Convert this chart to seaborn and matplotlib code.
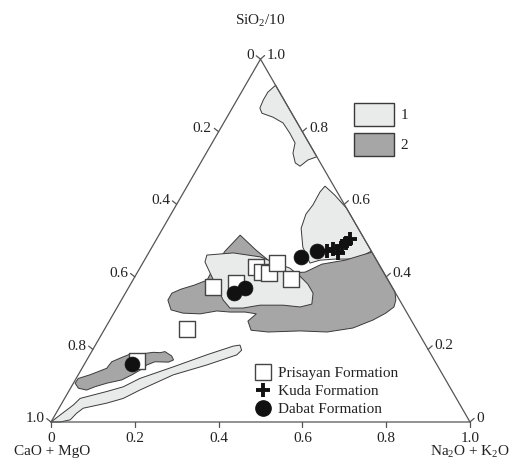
import numpy as np
import pandas as pd
import matplotlib
matplotlib.use("Agg")
import matplotlib.pyplot as plt
import seaborn as sns
from matplotlib.lines import Line2D
from matplotlib.patches import Patch
from matplotlib.transforms import offset_copy

# Compositions as fractions of (CaO+MgO) + SiO2/10 + (Na2O+K2O) = 1.
# Each point/vertex is stored as (Na2O+K2O, SiO2/10); CaO+MgO is the remainder.
prisayan_alk = [0.201, 0.250, 0.276, 0.297, 0.315, 0.320, 0.376, 0.197, 0.121]
prisayan_si = [0.372, 0.383, 0.427, 0.413, 0.411, 0.438, 0.394, 0.256, 0.168]

kuda_alk = [0.423, 0.435, 0.452, 0.452, 0.458, 0.462]
kuda_si = [0.471, 0.477, 0.466, 0.485, 0.493, 0.504]

dabat_alk = [0.259, 0.278, 0.369, 0.399, 0.113]
dabat_si = [0.355, 0.369, 0.455, 0.471, 0.160]

# Field 1 outlines
field1_top_alk = [0.072, 0.269, 0.252, 0.242, 0.226, 0.207, 0.198, 0.172, 0.142, 0.110, 0.078, 0.066, 0.063, 0.063]
field1_top_si = [0.928, 0.731, 0.722, 0.705, 0.714, 0.741, 0.769, 0.796, 0.824, 0.840, 0.851, 0.865, 0.887, 0.909]

field1_right_alk = [0.329, 0.365, 0.411, 0.529, 0.514, 0.494, 0.453, 0.419, 0.399, 0.360, 0.330, 0.322, 0.326, 0.325]
field1_right_si = [0.650, 0.625, 0.589, 0.471, 0.457, 0.449, 0.449, 0.446, 0.438, 0.482, 0.534, 0.573, 0.598, 0.634]

field1_mid_alk = [0.142, 0.202, 0.272, 0.309, 0.358, 0.393, 0.423, 0.448, 0.460, 0.436, 0.393, 0.338,
                  0.301, 0.270, 0.243, 0.210, 0.174, 0.147]
field1_mid_si = [0.460, 0.466, 0.455, 0.441, 0.424, 0.402, 0.380, 0.355, 0.325, 0.317, 0.322, 0.322,
                 0.314, 0.314, 0.336, 0.372, 0.411, 0.441]

field1_band_alk = [0.000, 0.012, 0.030, 0.037, 0.091, 0.124, 0.152, 0.216, 0.279, 0.330, 0.345, 0.356,
                   0.351, 0.293, 0.227, 0.168, 0.140, 0.107, 0.058, 0.049, 0.043, 0.022]
field1_band_si = [0.000, 0.019, 0.047, 0.065, 0.084, 0.097, 0.120, 0.152, 0.185, 0.209, 0.212, 0.198,
                  0.185, 0.157, 0.130, 0.088, 0.065, 0.052, 0.038, 0.024, 0.006, 0.000]

# Field 2 outlines
field2_main_alk = [0.194, 0.252, 0.308, 0.365, 0.400, 0.429, 0.479, 0.512, 0.532, 0.642, 0.655, 0.660,
                   0.649, 0.628, 0.591, 0.535, 0.469, 0.394, 0.351, 0.331, 0.341, 0.312, 0.276, 0.243,
                   0.207, 0.165, 0.132, 0.111, 0.111, 0.127, 0.153, 0.177, 0.175, 0.180]
field2_main_si = [0.515, 0.474, 0.438, 0.411, 0.413, 0.435, 0.446, 0.460, 0.468, 0.358, 0.336, 0.317,
                  0.300, 0.281, 0.259, 0.248, 0.251, 0.248, 0.253, 0.278, 0.298, 0.303, 0.303, 0.306,
                  0.298, 0.300, 0.309, 0.336, 0.355, 0.366, 0.377, 0.391, 0.433, 0.471]

field2_low_alk = [0.005, 0.028, 0.059, 0.062, 0.077, 0.095, 0.130, 0.148, 0.165, 0.175, 0.197, 0.207,
                  0.198, 0.165, 0.150, 0.141, 0.128, 0.111, 0.080, 0.056, 0.041, 0.019, 0.004]
field2_low_si = [0.120, 0.130, 0.148, 0.166, 0.176, 0.187, 0.189, 0.192, 0.191, 0.194, 0.182, 0.171,
                 0.165, 0.166, 0.157, 0.143, 0.130, 0.116, 0.107, 0.097, 0.088, 0.093, 0.107]

tick_values = [0.0, 0.2, 0.4, 0.6, 0.8, 1.0]
tick_labels = ["0", "0.2", "0.4", "0.6", "0.8", "1.0"]

field_labels = ["1", "2"]
formation_labels = ["Prisayan Formation", "Kuda Formation", "Dabat Formation"]

LIGHT = "#e9eaea"
DARK = "#a6a6a6"
OUTLINE = "#3a3a3a"
FRAME = "#555555"
H = np.sqrt(3) / 2


def to_xy(alk, si):
    alk = np.asarray(alk, dtype=float)
    si = np.asarray(si, dtype=float)
    return alk + si / 2, si * H


sns.set_theme(style="white")
plt.rcParams["font.family"] = ["Liberation Serif", "DejaVu Serif"]
plt.rcParams["mathtext.fontset"] = "custom"
plt.rcParams["mathtext.rm"] = "Liberation Serif"
plt.rcParams["mathtext.it"] = "Liberation Serif:italic"

fig = plt.figure(figsize=(5.09, 4.61), dpi=100)
ax = fig.add_axes([0, 0, 1, 1])
ax.set_xlim(-0.1217, 1.0931)
ax.set_ylim(-0.0931, 1.0072)
ax.set_axis_off()

# compositional fields
polys = [
    (field1_top_alk, field1_top_si, LIGHT, 2),
    (field1_right_alk, field1_right_si, LIGHT, 2),
    (field1_band_alk, field1_band_si, LIGHT, 2),
    (field2_low_alk, field2_low_si, DARK, 3),
    (field2_main_alk, field2_main_si, DARK, 3),
    (field1_mid_alk, field1_mid_si, LIGHT, 4),
]
for alk, si, col, z in polys:
    x, y = to_xy(alk, si)
    ax.fill(x, y, facecolor=col, edgecolor=OUTLINE, linewidth=0.7, zorder=z)

# triangle frame
corners_x, corners_y = to_xy([0, 1, 0, 0], [0, 0, 1, 0])
ax.plot(corners_x, corners_y, color=FRAME, lw=0.9, zorder=5, solid_joinstyle="miter")

# ticks and tick labels on the three sides
tl = 0.013
fs = 11
for t, lab in zip(tick_values, tick_labels):
    # bottom: Na2O+K2O
    bx, by = to_xy(t, 0)
    ax.plot([bx, bx], [by, by - tl], color=FRAME, lw=0.9, zorder=5)
    ax.text(bx, by, lab, ha="center", va="center", fontsize=fs, color="#222",
            transform=offset_copy(ax.transData, fig=fig, x=0, y=-16.5, units="dots"))
    # left: CaO+MgO
    lx, ly = to_xy(0, 1 - t)
    dx, dy = -0.78 * tl, 0.62 * tl
    ax.plot([lx, lx + dx], [ly, ly + dy], color=FRAME, lw=0.9, zorder=5)
    ax.text(lx + dx, ly + dy, lab, ha="right", va="center", fontsize=fs, color="#222",
            transform=offset_copy(ax.transData, fig=fig, x=-2.5, y=0, units="dots"))
    # right: SiO2/10
    rx, ry = to_xy(1 - t, t)
    dx, dy = 0.75 * tl, 0.66 * tl
    ax.plot([rx, rx + dx], [ry, ry + dy], color=FRAME, lw=0.9, zorder=5)
    ax.text(rx + dx, ry + dy, lab, ha="left", va="center", fontsize=fs, color="#222",
            transform=offset_copy(ax.transData, fig=fig, x=2.5, y=0, units="dots"))

# apex names
ax.text(*to_xy(0, 1), "SiO$_2$/10", ha="center", va="center", fontsize=fs, color="#222",
        transform=offset_copy(ax.transData, fig=fig, x=0, y=38, units="dots"))
ax.text(*to_xy(0, 0), "CaO + MgO", ha="center", va="center", fontsize=fs, color="#222",
        transform=offset_copy(ax.transData, fig=fig, x=1, y=-30, units="dots"))
ax.text(*to_xy(1, 0), "Na$_2$O + K$_2$O", ha="center", va="center", fontsize=fs, color="#222",
        transform=offset_copy(ax.transData, fig=fig, x=0, y=-30, units="dots"))

# sample points
px, py = to_xy(prisayan_alk, prisayan_si)
kx, ky = to_xy(kuda_alk, kuda_si)
dx_, dy_ = to_xy(dabat_alk, dabat_si)
pts = pd.DataFrame({
    "x": np.concatenate([px, kx, dx_]),
    "y": np.concatenate([py, ky, dy_]),
    "formation": [formation_labels[0]] * len(px) + [formation_labels[1]] * len(kx)
                 + [formation_labels[2]] * len(dx_),
})

sq = pts[pts.formation == formation_labels[0]]
sns.scatterplot(data=sq, x="x", y="y", marker="s", s=135, color="white",
                edgecolor="#444444", linewidth=1.0, legend=False, ax=ax, zorder=6)
cr = pts[pts.formation == formation_labels[1]]
sns.scatterplot(data=cr, x="x", y="y", marker="+", s=100, color="#111111",
                linewidth=2.8, legend=False, ax=ax, zorder=7)
ci = pts[pts.formation == formation_labels[2]]
sns.scatterplot(data=ci, x="x", y="y", marker="o", s=115, color="#111111",
                edgecolor="#111111", linewidth=0.5, legend=False, ax=ax, zorder=8)

# legends
fm_handles = [
    Line2D([], [], marker="s", ms=11.5, mfc="white", mec="#444444", mew=1.0, ls="none"),
    Line2D([], [], marker="+", ms=10, mec="#111111", mew=2.8, ls="none"),
    Line2D([], [], marker="o", ms=11, mfc="#111111", mec="#111111", ls="none"),
]
leg1 = ax.legend(fm_handles, formation_labels, loc="upper left",
                 bbox_to_anchor=(255.4 / 509, 1 - 366.5 / 461), bbox_transform=fig.transFigure,
                 frameon=False, fontsize=fs, handlelength=1.0, handletextpad=0.48,
                 labelspacing=0.28, borderpad=0, borderaxespad=0)
for t in leg1.get_texts():
    t.set_color("#222")
ax.add_artist(leg1)

field_handles = [Patch(facecolor=LIGHT, edgecolor=OUTLINE, linewidth=1.0),
                 Patch(facecolor=DARK, edgecolor=OUTLINE, linewidth=1.0)]
leg2 = ax.legend(field_handles, field_labels, loc="upper left",
                 bbox_to_anchor=(354.3 / 509, 1 - 103 / 461), bbox_transform=fig.transFigure,
                 frameon=False, fontsize=fs, handlelength=2.62, handleheight=1.94,
                 handletextpad=0.4, labelspacing=0.46, borderpad=0, borderaxespad=0)
for t in leg2.get_texts():
    t.set_color("#222")

fig.savefig("out.png", dpi=100)
